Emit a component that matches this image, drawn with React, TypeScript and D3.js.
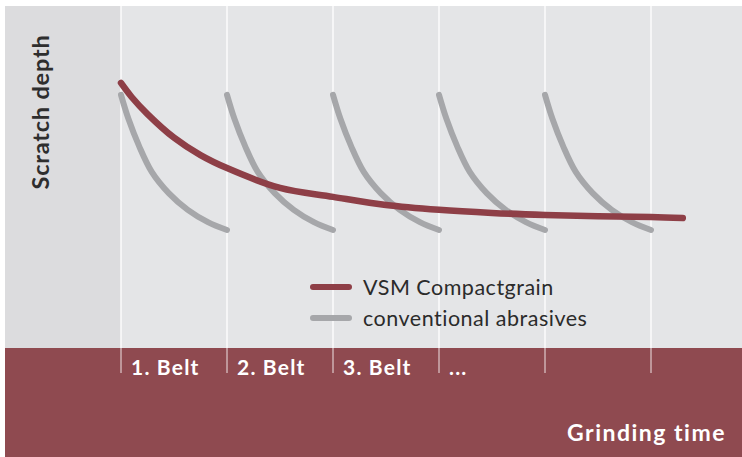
import React from 'react';
import * as d3 from 'd3';

// x in "belts" (one belt = one grid column), y = scratch depth in arbitrary units 0..100
const beltLabels = ["1. Belt", "2. Belt", "3. Belt", "..."];
const gridSteps = [0, 1, 2, 3, 4, 5];
const beltStarts = [0, 1, 2, 3, 4];

// VSM Compactgrain: one continuous curve
const compactX = [0, 0.1, 0.25, 0.5, 0.75, 1, 1.5, 2, 2.5, 3, 3.5, 4, 4.5, 5, 5.3];
const compactY = [77.5, 73.4, 68.4, 61.5, 56.4, 52.6, 46.8, 44.2, 41.8, 40.4, 39.5, 38.9, 38.5, 38.3, 38.0];

// conventional abrasives: same drop repeated for each belt
const convDx = [0, 0.07, 0.17, 0.29, 0.45, 0.63, 0.82, 1.0];
const convY = [74.0, 67.0, 59.1, 51.5, 45.3, 40.4, 36.8, 34.5];

const legendItems = [
    { label: "VSM Compactgrain", color: "#8e3f47" },
    { label: "conventional abrasives", color: "#a6a7aa" },
];

const W = 742;
const H = 457;
const FONT = "Lato, 'Open Sans', sans-serif";

export default function App() {
    const left = 5, top = 6, bandTop = 348;
    const x = d3.scaleLinear().domain([0, 5]).range([121, 651]);
    const y = d3.scaleLinear().domain([0, 100]).range([bandTop, top]);

    const line = d3.line<[number, number]>()
        .x(d => x(d[0]))
        .y(d => y(d[1]))
        .curve(d3.curveCatmullRom.alpha(0.5));

    const compactPts: [number, number][] = compactX.map((v, i) => [v, compactY[i]]);

    return (
        <svg width={W} height={H} style={{ position: 'absolute', left: 0, top: 0, display: 'block' }}>
            <rect x={0} y={0} width={W} height={H} fill="#fff" />
            {/* plot background */}
            <rect x={left} y={top} width={x(0) - left} height={bandTop - top} fill="#dcdcde" />
            <rect x={x(0)} y={top} width={W - x(0)} height={bandTop - top} fill="#e4e5e7" />
            {/* bottom band */}
            <rect x={left} y={bandTop} width={W - left} height={H - bandTop} fill="#8f4a50" />

            {/* vertical grid */}
            {gridSteps.map(s => (
                <g key={s}>
                    <line x1={x(s)} x2={x(s)} y1={top} y2={bandTop} stroke="#fff" strokeWidth={1.3} />
                    <line x1={x(s)} x2={x(s)} y1={bandTop} y2={373} stroke="#fff" strokeOpacity={0.85} strokeWidth={1} />
                </g>
            ))}

            {/* conventional curves */}
            {beltStarts.map(b => (
                <path key={b}
                    d={line(convDx.map((dx, i) => [b + dx, convY[i]] as [number, number])) || ""}
                    fill="none" stroke={legendItems[1].color} strokeWidth={6} strokeLinecap="round" />
            ))}

            {/* compactgrain curve */}
            <path d={line(compactPts) || ""} fill="none" stroke={legendItems[0].color}
                strokeWidth={6.5} strokeLinecap="round" />

            {/* legend */}
            {legendItems.map((d, i) => (
                <g key={d.label} transform={`translate(0,${287 + i * 31})`}>
                    <line x1={313} x2={349} y1={0} y2={0} stroke={d.color} strokeWidth={6} strokeLinecap="round" />
                    <text x={363} y={0} dy="0.35em" fontFamily={FONT} fontSize={21.5} letterSpacing={0.5}
                        fill="#2b2b2b">{d.label}</text>
                </g>
            ))}

            {/* y axis title */}
            <text transform={`translate(49,${112}) rotate(-90)`} textAnchor="middle"
                fontFamily={FONT} fontWeight={700} fontSize={23.5} letterSpacing={0.8} fill="#2e2e2e">Scratch depth</text>

            {/* belt labels */}
            {beltLabels.map((l, i) => (
                <text key={l} x={x(i) + 10} y={375} fontFamily={FONT} fontWeight={700} fontSize={21}
                    letterSpacing={1.2} fill="#fff">{l}</text>
            ))}

            <text x={726} y={441} textAnchor="end" fontFamily={FONT} fontWeight={700} fontSize={23}
                letterSpacing={1.5} fill="#fff">Grinding time</text>
        </svg>
    );
}
